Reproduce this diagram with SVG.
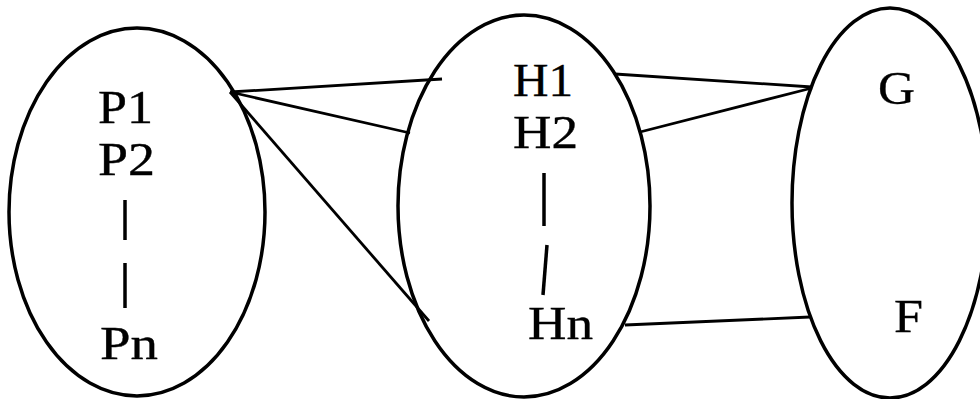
<svg xmlns="http://www.w3.org/2000/svg" width="980" height="399" viewBox="0 0 980 399">
<style>
.set{fill:none;stroke:#000;stroke-width:3.5}
.lbl{font-family:"Liberation Serif","Times New Roman",serif;font-size:46px;fill:#000;stroke:#000;stroke-width:0.35}
.edge{stroke:#000;stroke-width:2.8;fill:none}
.dash{stroke:#000;stroke-width:3.5;fill:none}
</style>
<rect width="980" height="399" fill="#fff"/>
<g id="nodeP">
<ellipse class="set" cx="137" cy="212" rx="128" ry="184"/>
<text class="lbl" x="98" y="123" textLength="55" lengthAdjust="spacingAndGlyphs">P1</text>
<text class="lbl" x="98" y="175" textLength="57" lengthAdjust="spacingAndGlyphs">P2</text>
<line class="dash" x1="125" y1="200" x2="125" y2="240"/>
<line class="dash" x1="125" y1="263" x2="125" y2="308"/>
<text class="lbl" x="100" y="359" textLength="58" lengthAdjust="spacingAndGlyphs">Pn</text>
</g>
<g id="nodeH">
<ellipse class="set" cx="524" cy="206" rx="126" ry="191"/>
<text class="lbl" x="513" y="96" textLength="60" lengthAdjust="spacingAndGlyphs">H1</text>
<text class="lbl" x="513" y="148" textLength="65" lengthAdjust="spacingAndGlyphs">H2</text>
<line class="dash" x1="544" y1="173" x2="544" y2="226"/>
<line class="dash" x1="547" y1="245" x2="543" y2="295"/>
<text class="lbl" x="528" y="339" textLength="65" lengthAdjust="spacingAndGlyphs">Hn</text>
</g>
<g id="nodeGF">
<ellipse class="set" cx="890" cy="203" rx="98" ry="195"/>
<text class="lbl" x="878" y="104" textLength="37" lengthAdjust="spacingAndGlyphs">G</text>
<text class="lbl" x="894" y="332" textLength="29" lengthAdjust="spacingAndGlyphs">F</text>
</g>
<g id="connectors">
<line class="edge" x1="230" y1="92" x2="442" y2="79"/>
<line class="edge" x1="230" y1="92" x2="410" y2="133"/>
<line class="edge" x1="230" y1="92" x2="429" y2="321"/>
<line class="edge" x1="615" y1="74" x2="812" y2="87"/>
<line class="edge" x1="640" y1="132" x2="812" y2="88"/>
<line class="edge" x1="625" y1="325" x2="810" y2="317"/>
</g>
</svg>
